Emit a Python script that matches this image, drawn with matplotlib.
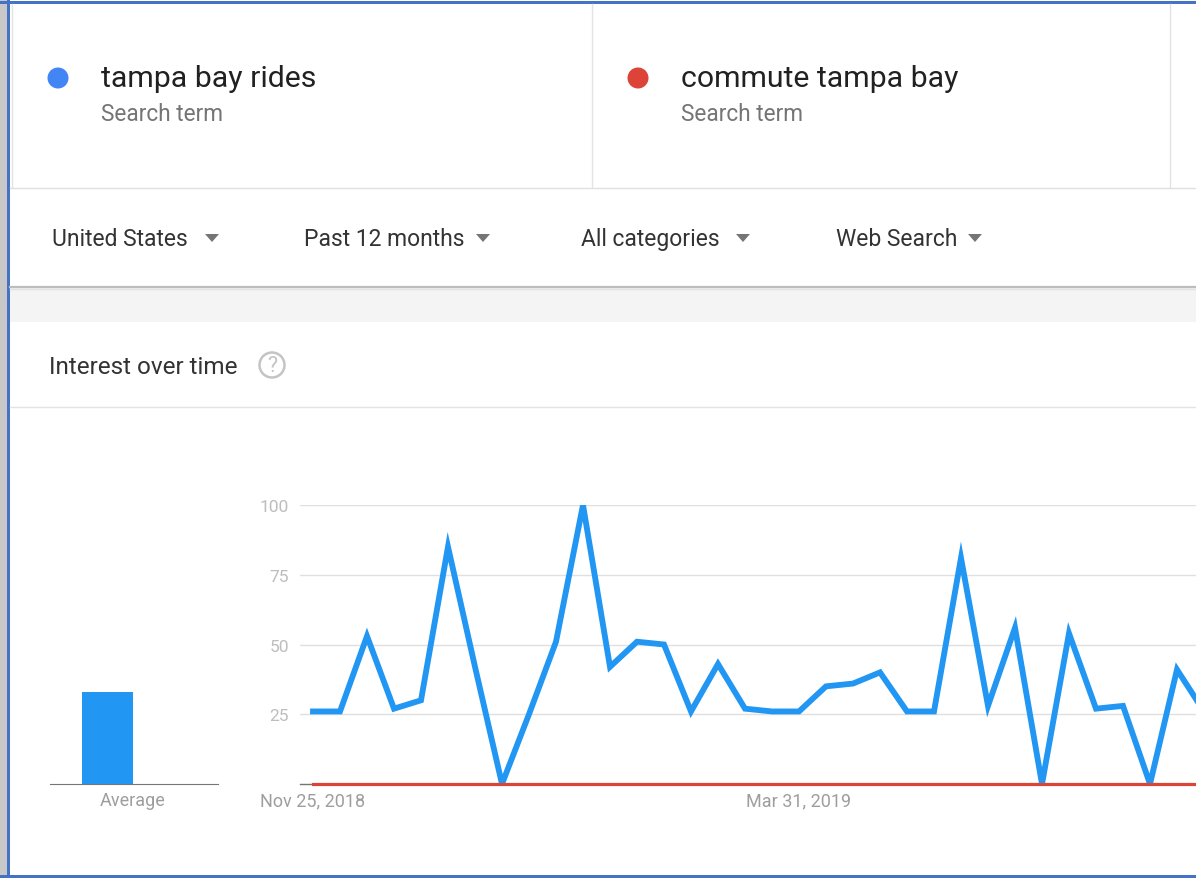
import matplotlib
matplotlib.use('Agg')
import matplotlib.pyplot as plt
import matplotlib.dates as mdates
from matplotlib.patches import Rectangle, Circle, Polygon
import numpy as np
import pandas as pd

plt.rcParams['font.family'] = ['Roboto', 'DejaVu Sans']

# search terms shown in the header
terms = ['tampa bay rides', 'commute tampa bay']
term_colors = ['#4285f4', '#db4437']
filters = ['United States', 'Past 12 months', 'All categories', 'Web Search']

# weekly interest, starting Nov 25, 2018 (last point is cut at the right edge)
start = '2018-11-25'
rides = [26, 26, 53, 27, 30, 85, 42, 0, 25, 51, 100, 42, 51, 50, 26, 43, 27,
         26, 26, 35, 36, 40, 26, 26, 81, 28, 56, 0, 54, 27, 28, 0, 41, 26]
commute = [0] * len(rides)
averages = [33, 0]
date_ticks = ['2018-11-25', '2019-03-31']
y_ticks = [25, 50, 75, 100]

W, H = 1196, 879
fig = plt.figure(figsize=(W / 100, H / 100), dpi=100)

# ---- page chrome, drawn in pixel coordinates ----
bg = fig.add_axes([0, 0, 1, 1])
bg.set_xlim(0, W)
bg.set_ylim(H, 0)
bg.axis('off')

bg.add_patch(Rectangle((10, 289), W, 34, color='#f4f4f4', lw=0))
bg.plot([10, W], [287.5, 287.5], color='#bdbdbd', lw=1.6)
bg.plot([10, W], [289.5, 289.5], color='#e2e2e2', lw=1)
bg.plot([10, W], [189, 189], color='#e0e0e0', lw=1)
bg.plot([10, W], [408, 408], color='#e3e3e3', lw=1)
for xv in [12, 592, 1170]:
    bg.plot([xv, xv], [5, 189], color='#e3e3e3', lw=1)

# screenshot frame
bg.add_patch(Rectangle((0, 0), 7, H, color='#c8c8c8', lw=0))
bg.add_patch(Rectangle((7, 0), 3, H, color='#4472c4', lw=0))
bg.add_patch(Rectangle((0, 2), W, 3, color='#4472c4', lw=0))
bg.add_patch(Rectangle((0, 876), W, 3, color='#4472c4', lw=0))

# header: search terms
for i, (t, c) in enumerate(zip(terms, term_colors)):
    x0 = 58 + i * 580
    bg.add_patch(Circle((x0, 79), 10.5, color=c, lw=0))
    bg.text(x0 + 43, 87, t, fontsize=21.8, color='#212121', va='baseline')
    bg.text(x0 + 43, 121, 'Search term', fontsize=16.3, color='#757575', va='baseline')

# filter row
fx = [52, 304, 581, 836]
ax_arrow = [212, 483, 743, 975]
for t, x0, xa in zip(filters, fx, ax_arrow):
    bg.text(x0, 246, t, fontsize=16.5, color='#333333', va='baseline')
    bg.add_patch(Polygon([[xa - 7, 235], [xa + 7, 235], [xa, 243]], closed=True,
                         color='#757575', lw=0))

bg.text(49, 374, 'Interest over time', fontsize=17.5, color='#333333', va='baseline')
bg.add_patch(Circle((272, 366), 12.5, fill=False, ec='#c4c4c4', lw=1.8))
bg.text(272, 367, '?', fontsize=15.5, color='#c4c4c4', ha='center', va='center')

# ---- chart area ----
y_bot, y_top = 785, 506
pos_y = (H - y_bot) / H
pos_h = (y_bot - y_top) / H

dates = pd.date_range(start, periods=len(rides), freq='7D')
d0 = mdates.date2num(dates[0])
px = 27.0  # pixels per week

ax = fig.add_axes([300 / W, pos_y, (W - 300) / W, pos_h])
ax.set_xlim(d0 - 13 / px * 7, d0 + (W - 313) / px * 7)
ax.set_ylim(0, 100)
ax.plot(dates, rides, color='#2196f3', lw=4.2, solid_joinstyle='miter', zorder=3)
ax.plot(dates, commute, color='#db4437', lw=2.3, zorder=4, clip_on=False)
ax.set_yticks(y_ticks)
ax.grid(axis='y', color='#e0e0e0', lw=1)
ax.set_xticks(mdates.date2num(pd.to_datetime(date_ticks)))
ax.xaxis.set_major_formatter(mdates.DateFormatter('%b %d, %Y'))
ax.tick_params(axis='y', length=0, pad=8, labelsize=12.5, labelcolor='#bdbdbd')
ax.tick_params(axis='x', length=0, pad=5, labelsize=13, labelcolor='#9e9e9e')
for s in ['top', 'right', 'left']:
    ax.spines[s].set_visible(False)
ax.spines['bottom'].set_color('#757575')
ax.spines['bottom'].set_linewidth(1)
ax.set_axisbelow(True)
ax.patch.set_alpha(0)

# average bars
ab = fig.add_axes([50 / W, pos_y, 168 / W, pos_h])
ab.bar([0, 1], averages, width=1, color=['#2196f3', '#db4437'])
ab.set_xlim((50 - 107.5) / 51, (218 - 107.5) / 51)
ab.set_ylim(0, 100)
ab.set_xticks([0.5])
ab.set_xticklabels(['Average'])
ab.set_yticks([])
ab.tick_params(axis='x', length=0, pad=5, labelsize=13, labelcolor='#9e9e9e')
for s in ['top', 'right', 'left']:
    ab.spines[s].set_visible(False)
ab.spines['bottom'].set_color('#757575')
ab.patch.set_alpha(0)

fig.savefig('out.png', dpi=100)
